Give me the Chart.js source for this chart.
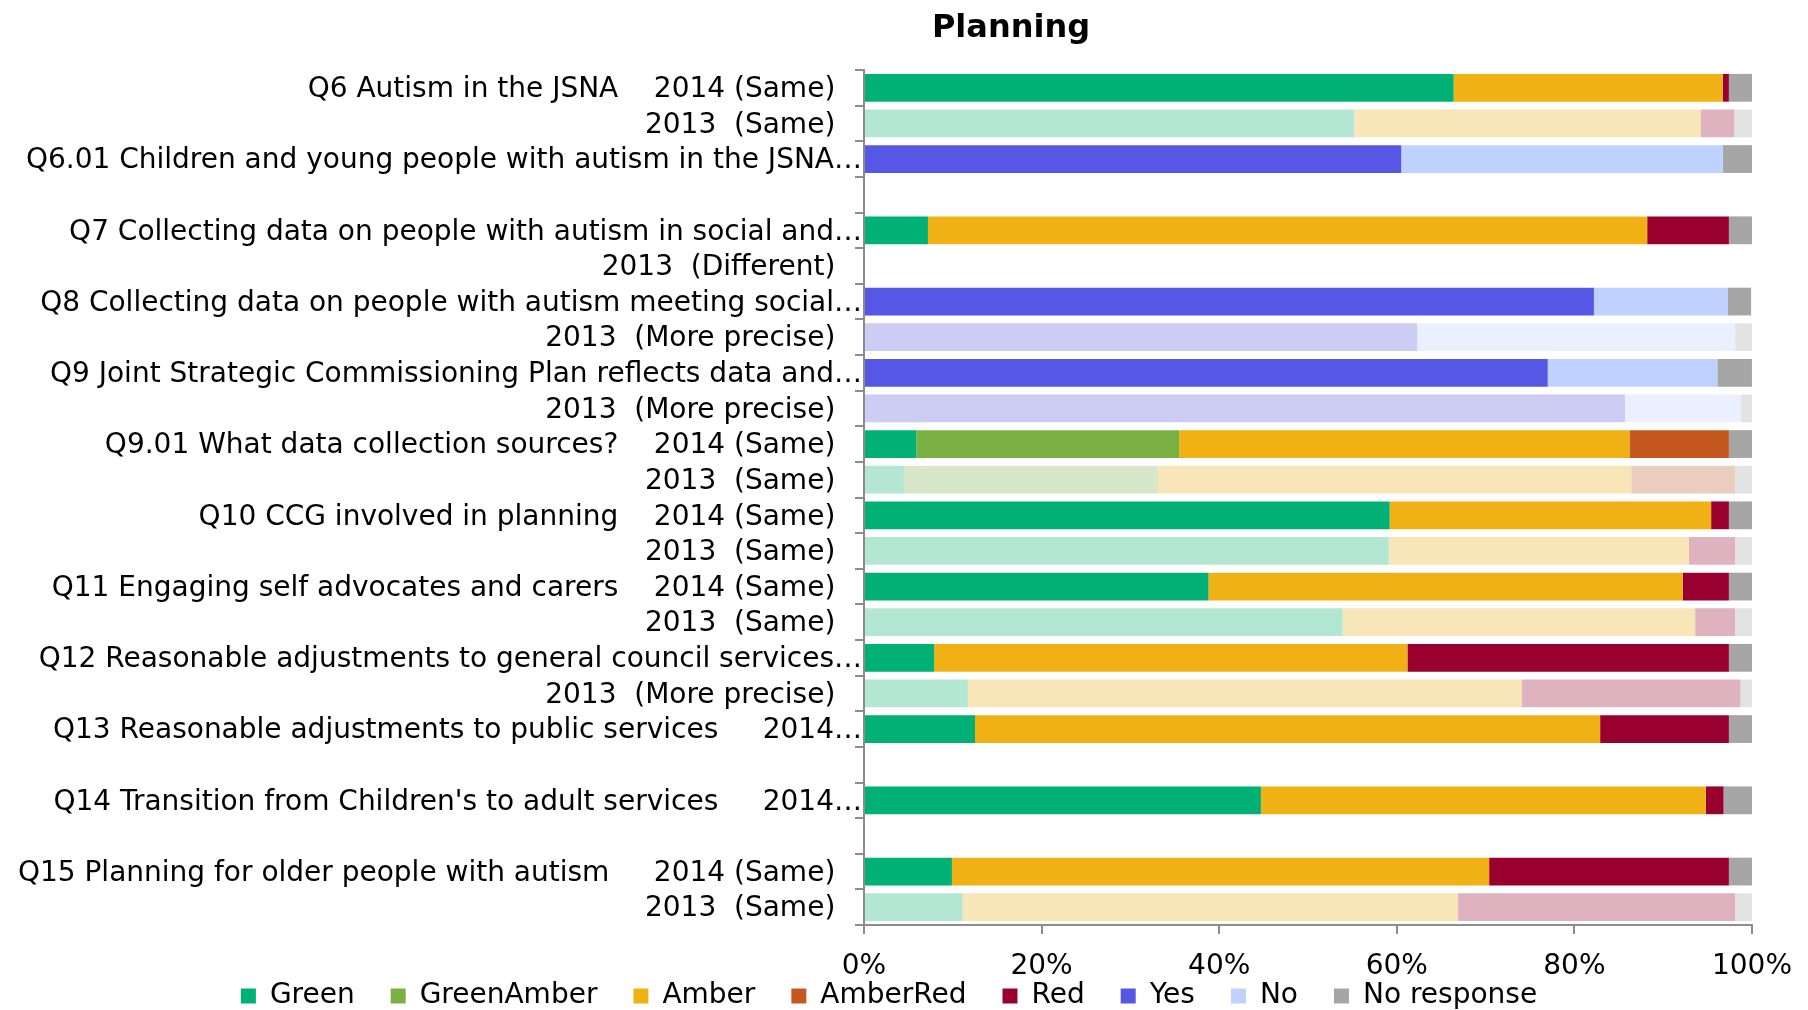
<!DOCTYPE html>
<html>
<head>
<meta charset="utf-8">
<script src="https://cdn.jsdelivr.net/npm/chart.js@4/dist/chart.umd.min.js"></script>
<style>
  html, body { margin: 0; padding: 0; background: #ffffff; }
  #wrap { width: 1808px; height: 1010px; }
</style>
</head>
<body>
<div id="wrap"><canvas id="c" width="1808" height="1010"></canvas></div>
<script>
const titleText = "Planning";

const categories = [
  "Q6 Autism in the JSNA    2014 (Same)",
  "2013  (Same)",
  "Q6.01 Children and young people with autism in the JSNA\u2026",
  "",
  "Q7 Collecting data on people with autism in social and\u2026",
  "2013  (Different)",
  "Q8 Collecting data on people with autism meeting social\u2026",
  "2013  (More precise)",
  "Q9 Joint Strategic Commissioning Plan reflects data and\u2026",
  "2013  (More precise)",
  "Q9.01 What data collection sources?    2014 (Same)",
  "2013  (Same)",
  "Q10 CCG involved in planning    2014 (Same)",
  "2013  (Same)",
  "Q11 Engaging self advocates and carers    2014 (Same)",
  "2013  (Same)",
  "Q12 Reasonable adjustments to general council services\u2026",
  "2013  (More precise)",
  "Q13 Reasonable adjustments to public services     2014\u2026",
  "",
  "Q14 Transition from Children's to adult services     2014\u2026",
  "",
  "Q15 Planning for older people with autism     2014 (Same)",
  "2013  (Same)"
];

// survey year of each row (2013 rows are drawn in pale tints)
const rowYear = [2014, 2013, 2014, null, 2014, 2013, 2014, 2013, 2014, 2013, 2014, 2013,
                 2014, 2013, 2014, 2013, 2014, 2013, 2014, null, 2014, null, 2014, 2013];

const seriesNames = ["Green", "GreenAmber", "Amber", "AmberRed", "Red", "Yes", "No", "No response"];

const greenValues      = [66.4, 55.2, null, null, 7.2, null, null, null, null, null, 5.9, 4.5, 59.2, 59.1, 38.8, 53.9, 7.9, 11.7, 12.5, null, 44.7, null, 9.9, 11.1];
const greenAmberValues = [null, null, null, null, null, null, null, null, null, null, 29.6, 28.6, null, null, null, null, null, null, null, null, null, null, null, null];
const amberValues      = [30.3, 39.0, null, null, 81.0, null, null, null, null, null, 50.7, 53.3, 36.2, 33.8, 53.4, 39.7, 53.3, 62.4, 70.4, null, 50.1, null, 60.5, 55.8];
const amberRedValues   = [null, null, null, null, null, null, null, null, null, null, 11.2, 11.7, null, null, null, null, null, null, null, null, null, null, null, null];
const redValues        = [0.7, 3.8, null, null, 9.2, null, null, null, null, null, null, null, 2.0, 5.2, 5.2, 4.5, 36.2, 24.6, 14.5, null, 2.0, null, 27.0, 31.2];
const yesValues        = [null, null, 60.5, null, null, null, 82.2, 62.3, 77.0, 85.7, null, null, null, null, null, null, null, null, null, null, null, null, null, null];
const noValues         = [null, null, 36.2, null, null, null, 15.1, 35.8, 19.1, 13.0, null, null, null, null, null, null, null, null, null, null, null, null, null, null];
const noResponseValues = [2.6, 2.0, 3.3, null, 2.6, null, 2.6, 1.9, 3.9, 1.3, 2.6, 1.9, 2.6, 1.9, 2.6, 1.9, 2.6, 1.3, 2.6, null, 3.3, null, 2.6, 1.9];

const xTickValues = [0, 20, 40, 60, 80, 100];

const seriesValues = [greenValues, greenAmberValues, amberValues, amberRedValues, redValues, yesValues, noValues, noResponseValues];

const darkColors  = ["#00B074", "#7AB041", "#EFB113", "#C4581E", "#990030", "#5757E5", "#BFD2FF", "#A6A6A6"];
const lightColors = ["#B3E7D4", "#D7E7C7", "#F9E6B8", "#EBCDBE", "#DFB2C0", "#CDCCF4", "#EAF0FF", "#E3E3E3"];

Chart.defaults.font.family = "'DejaVu Sans', 'Liberation Sans', Arial, sans-serif";
Chart.defaults.color = "#000000";

const datasets = seriesNames.map((name, i) => ({
  label: name,
  data: seriesValues[i],
  backgroundColor: (ctx) => (ctx.dataIndex !== undefined && rowYear[ctx.dataIndex] === 2013) ? lightColors[i] : darkColors[i],
  borderWidth: 0,
  barPercentage: 0.78,
  categoryPercentage: 1.0
}));

const titlePlugin = {
  id: "plotTitle",
  afterDraw(chart) {
    const ctx = chart.ctx;
    ctx.save();
    ctx.font = "bold 32px 'DejaVu Sans', 'Liberation Sans', sans-serif";
    ctx.fillStyle = "#000000";
    ctx.textAlign = "center";
    ctx.textBaseline = "middle";
    ctx.fillText(titleText, 1011, 29);
    ctx.restore();
  }
};

// let the x-axis labels and the legend share the strip below the plot
const layoutFix = {
  id: "layoutFix",
  afterLayout(chart) {
    const x = chart.scales.x;
    x.bottom = x.top + 75;
    x.height = 75;
    const lg = chart.legend;
    if (lg) { lg.left += 12; lg.right += 12; lg.top += 2; lg.bottom += 2; }
  }
};

new Chart(document.getElementById("c"), {
  type: "bar",
  data: { labels: categories, datasets: datasets },
  options: {
    indexAxis: "y",
    responsive: false,
    animation: false,
    layout: { padding: { top: 70, right: 54, bottom: -8, left: 0 } },
    scales: {
      x: {
        stacked: true,
        min: 0,
        max: 100,
        afterBuildTicks: (s) => { s.ticks = xTickValues.map(v => ({ value: v })); },
        afterFit: (s) => { s.height = 19; },
        border: { color: "#8C8C8C", width: 2 },
        grid: { drawOnChartArea: false, color: "#8C8C8C", lineWidth: 2, tickLength: 9 },
        ticks: { font: { size: 28 }, padding: 16, maxRotation: 0, autoSkip: false, callback: (v) => v + "%" }
      },
      y: {
        stacked: true,
        afterFit: (s) => { s.width = 864; },
        border: { color: "#8C8C8C", width: 2 },
        grid: { drawOnChartArea: false, color: "#8C8C8C", lineWidth: 2, tickLength: 9, offset: true },
        ticks: {
          font: { size: 28 },
          padding: -7,
          labelOffset: 2,
          autoSkip: false,
          callback: function (value, index) {
            const t = categories[index];
            if (!t) return "";
            return t.endsWith("\u2026") ? t : t + "   ";
          }
        }
      }
    },
    plugins: {
      title: { display: false },
      tooltip: { enabled: false },
      legend: {
        position: "bottom",
        labels: { font: { size: 28 }, boxWidth: 15, boxHeight: 15, padding: 36 }
      }
    }
  },
  plugins: [titlePlugin, layoutFix]
});
</script>
</body>
</html>
